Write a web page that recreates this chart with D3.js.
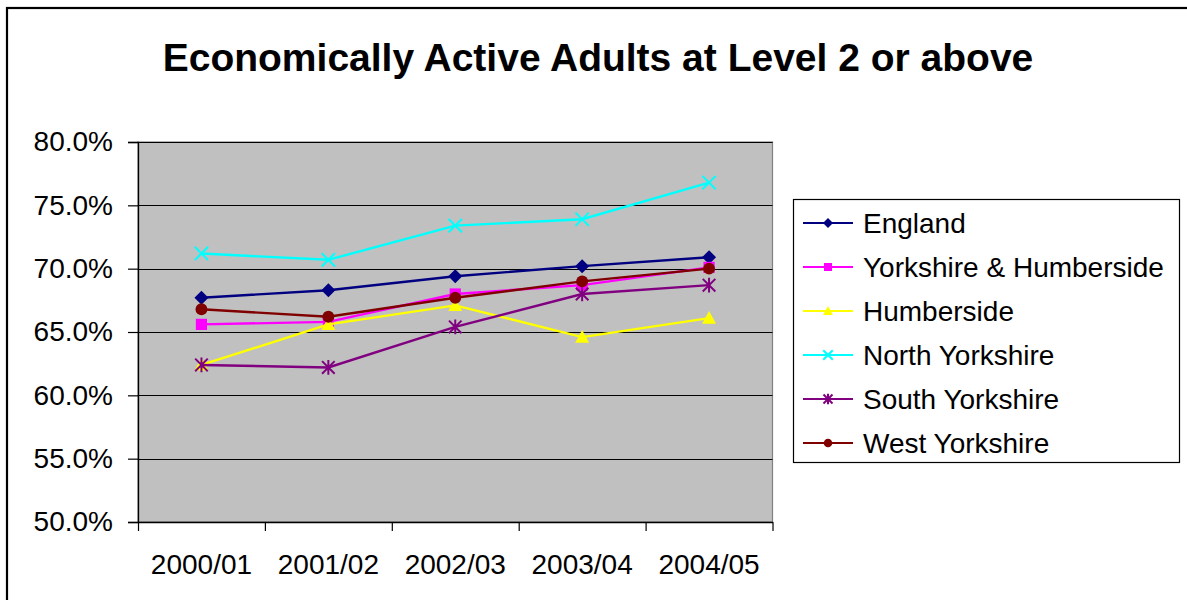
<!DOCTYPE html>
<html>
<head>
<meta charset="utf-8">
<script src="https://cdn.jsdelivr.net/npm/d3@7"></script>
<style>
  html, body { margin: 0; padding: 0; background: #fff; }
  svg { display: block; font-family: "Liberation Sans", Arial, sans-serif; }
</style>
</head>
<body>
<svg id="chart" width="1187" height="600"></svg>
<script>
const title = "Economically Active Adults at Level 2 or above";
const categories = ["2000/01", "2001/02", "2002/03", "2003/04", "2004/05"];
const seriesNames = ["England", "Yorkshire & Humberside", "Humberside", "North Yorkshire", "South Yorkshire", "West Yorkshire"];
const england = [0.677, 0.683, 0.694, 0.702, 0.709];
const yorksHumber = [0.656, 0.658, 0.680, 0.687, 0.701];
const humberside = [0.624, 0.656, 0.671, 0.646, 0.661];
const northYorks = [0.712, 0.707, 0.734, 0.739, 0.768];
const southYorks = [0.624, 0.622, 0.654, 0.680, 0.687];
const westYorks = [0.668, 0.662, 0.677, 0.690, 0.700];
const yTicks = [0.50, 0.55, 0.60, 0.65, 0.70, 0.75, 0.80];

const seriesValues = [england, yorksHumber, humberside, northYorks, southYorks, westYorks];
const colors = ["#000080", "#FF00FF", "#FFFF00", "#00FFFF", "#800080", "#800000"];
const markers = ["diamond", "square", "triangle", "x", "asterisk", "circle"];

const svg = d3.select("#chart");

// outer border
svg.append("rect").attr("x", 7).attr("y", 8).attr("width", 1200).attr("height", 700)
  .attr("fill", "#fff").attr("stroke", "#000").attr("stroke-width", 2.2);

// title
svg.append("text").attr("x", 598).attr("y", 71).attr("text-anchor", "middle")
  .attr("font-weight", "bold").attr("font-size", 39).attr("fill", "#000").text(title);

const pLeft = 138, pRight = 772.5, pTop = 142, pBottom = 522;
const x = d3.scaleBand().domain(categories).range([pLeft, pRight]).padding(0);
const y = d3.scaleLinear().domain([0.5, 0.8]).range([pBottom, pTop]);

// plot area
svg.append("rect").attr("x", pLeft).attr("y", pTop).attr("width", pRight - pLeft).attr("height", pBottom - pTop)
  .attr("fill", "#C0C0C0").attr("stroke", "#808080").attr("stroke-width", 1.2);

// gridlines
svg.append("g").selectAll("line").data(yTicks.slice(1)).join("line")
  .attr("x1", pLeft).attr("x2", pRight)
  .attr("y1", d => Math.round(y(d)) + 0.5).attr("y2", d => Math.round(y(d)) + 0.5)
  .attr("stroke", "#000").attr("stroke-width", 1.2);

// y axis
const yAxis = svg.append("g").attr("transform", `translate(${pLeft},0)`)
  .call(d3.axisLeft(y).tickValues(yTicks).tickFormat(d3.format(".1%")).tickSize(10).tickPadding(15));
yAxis.select(".domain").attr("stroke", "#000").attr("stroke-width", 1.3);
yAxis.selectAll(".tick line").attr("stroke", "#000").attr("stroke-width", 1.2);
yAxis.selectAll("text").attr("font-size", 28).attr("fill", "#000").attr("font-family", "Liberation Sans, Arial, sans-serif");

// x axis: labels at band centres
const xAxis = svg.append("g").attr("transform", `translate(0,${pBottom})`)
  .call(d3.axisBottom(x).tickSize(0).tickPadding(32));
xAxis.select(".domain").attr("stroke", "#000").attr("stroke-width", 1.3);
xAxis.selectAll("text").attr("font-size", 28).attr("fill", "#000").attr("font-family", "Liberation Sans, Arial, sans-serif");

// x axis tick marks at band boundaries
const xb = d3.scaleLinear().domain([0, categories.length]).range([pLeft, pRight]);
const xTickAxis = svg.append("g").attr("transform", `translate(0,${pBottom})`)
  .call(d3.axisBottom(xb).ticks(categories.length).tickSize(9).tickFormat(""));
xTickAxis.select(".domain").remove();
xTickAxis.selectAll(".tick line").attr("stroke", "#000").attr("stroke-width", 1.2);

function drawMarker(g, type, color, s) {
  if (type === "diamond") {
    g.append("path").attr("d", `M0,${-s}L${s},0L0,${s}L${-s},0Z`).attr("fill", color);
  } else if (type === "square") {
    const h = s * 0.8;
    g.append("rect").attr("x", -h).attr("y", -h).attr("width", 2 * h).attr("height", 2 * h).attr("fill", color);
  } else if (type === "triangle") {
    g.append("path").attr("d", `M0,${-s}L${s},${s * 0.8}L${-s},${s * 0.8}Z`).attr("fill", color);
  } else if (type === "x") {
    const h = s * 0.95;
    g.append("path").attr("d", `M${-h},${-h}L${h},${h}M${-h},${h}L${h},${-h}`).attr("stroke", color).attr("stroke-width", 2).attr("fill", "none");
  } else if (type === "asterisk") {
    const h = s * 0.9;
    g.append("path").attr("d", `M${-h},${-h}L${h},${h}M${-h},${h}L${h},${-h}M0,${-s * 1.05}L0,${s * 1.05}`).attr("stroke", color).attr("stroke-width", 2).attr("fill", "none");
  } else if (type === "circle") {
    g.append("circle").attr("r", s * 0.85).attr("fill", color);
  }
}

const line = d3.line().x((d, i) => x(categories[i]) + x.bandwidth() / 2).y(d => y(d));

seriesValues.forEach((vals, si) => {
  const g = svg.append("g");
  g.append("path").datum(vals).attr("d", line).attr("fill", "none")
    .attr("stroke", colors[si]).attr("stroke-width", 2.4);
  vals.forEach((v, i) => {
    const mg = g.append("g").attr("transform", `translate(${x(categories[i]) + x.bandwidth() / 2},${y(v)})`);
    drawMarker(mg, markers[si], colors[si], 7);
  });
});

// legend
const legend = svg.append("g");
legend.append("rect").attr("x", 793.5).attr("y", 199.5).attr("width", 386).attr("height", 263)
  .attr("fill", "#fff").attr("stroke", "#000").attr("stroke-width", 1.2);
seriesNames.forEach((name, i) => {
  const cy = 223 + i * 44;
  const lg = legend.append("g");
  lg.append("line").attr("x1", 803).attr("x2", 853).attr("y1", cy).attr("y2", cy)
    .attr("stroke", colors[i]).attr("stroke-width", 2);
  const mg = lg.append("g").attr("transform", `translate(828,${cy})`);
  drawMarker(mg, markers[i], colors[i], 5);
  lg.append("text").attr("x", 863).attr("y", cy + 10).attr("font-size", 28).attr("fill", "#000").text(name);
});
</script>
</body>
</html>
